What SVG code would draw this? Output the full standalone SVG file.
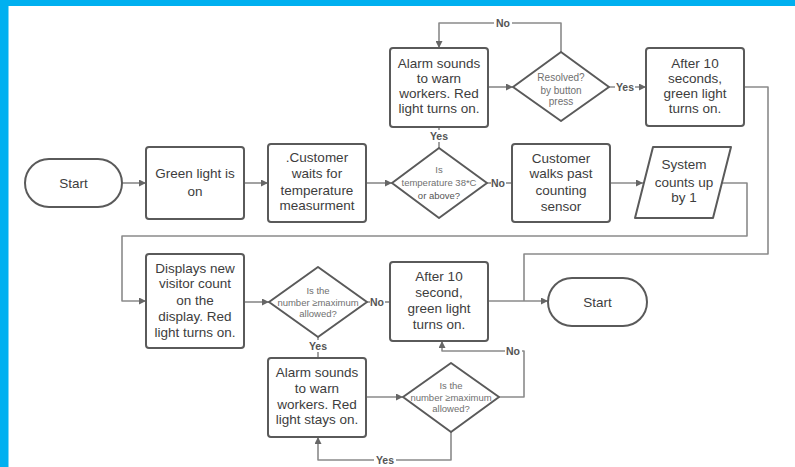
<svg xmlns="http://www.w3.org/2000/svg" width="795" height="467" viewBox="0 0 795 467">
<style>
.shape{fill:#fff;stroke:#5a5a5a;stroke-width:2;stroke-linejoin:round}
.line{fill:none;stroke:#8a8a8a;stroke-width:1.6;stroke-linejoin:round}
.t{font-family:"Liberation Sans",Arial,sans-serif;font-size:13.5px;fill:#3d3d3d;text-anchor:middle}
.s{font-family:"Liberation Sans",Arial,sans-serif;font-size:10px;fill:#707070;text-anchor:middle}
.lbl{font-family:"Liberation Sans",Arial,sans-serif;font-size:10.5px;font-weight:bold;fill:#555;text-anchor:middle}
.bg{fill:#fff}
</style>
<defs>
<marker id="arr" viewBox="0 0 10 10" refX="10" refY="5" markerWidth="9" markerHeight="7" markerUnits="userSpaceOnUse" orient="auto">
<path d="M0,0 L10,5 L0,10 z" fill="#666"/>
</marker>
</defs>
<rect x="0" y="0" width="795" height="467" fill="#fff"/>
<rect x="0" y="0" width="795" height="6" fill="#00b0f0"/>
<rect x="0" y="0" width="8.5" height="467" fill="#00b0f0"/>

<g id="connectors">
<path class="line" d="M122,183 H146" marker-end="url(#arr)"/>
<path class="line" d="M244,183 H268" marker-end="url(#arr)"/>
<path class="line" d="M366,183 H392" marker-end="url(#arr)"/>
<path class="line" d="M487,183 H512"/>
<path class="line" d="M439,148 V127"/>
<path class="line" d="M488,87 H513" marker-end="url(#arr)"/>
<path class="line" d="M561,52 V23 H439 V48" marker-end="url(#arr)"/>
<path class="line" d="M609,87 H646" marker-end="url(#arr)"/>
<path class="line" d="M744,87 H768 V254 H524 V301"/>
<path class="line" d="M610,183 H643" marker-end="url(#arr)"/>
<path class="line" d="M722,183 H747 V236 H122 V301 H146" marker-end="url(#arr)"/>
<path class="line" d="M244,302 H269" marker-end="url(#arr)"/>
<path class="line" d="M367,302 H390"/>
<path class="line" d="M318,337 V358"/>
<path class="line" d="M366,397 H403" marker-end="url(#arr)"/>
<path class="line" d="M499,397 H524 V351 H442 V341" marker-end="url(#arr)"/>
<path class="line" d="M451,432 V460 H318 V437" marker-end="url(#arr)"/>
<path class="line" d="M488,301 H548" marker-end="url(#arr)"/>
<rect class="bg" x="494" y="17" width="18" height="12"/>
<text class="lbl" x="503" y="27">No</text>
<rect class="bg" x="428" y="130" width="22" height="12"/>
<text class="lbl" x="439" y="140">Yes</text>
<rect class="bg" x="615" y="81" width="20" height="12"/>
<text class="lbl" x="625" y="91">Yes</text>
<rect class="bg" x="491" y="177" width="15" height="12"/>
<text class="lbl" x="498" y="187">No</text>
<rect class="bg" x="370" y="296" width="15" height="12"/>
<text class="lbl" x="377" y="306">No</text>
<rect class="bg" x="307" y="340" width="22" height="12"/>
<text class="lbl" x="318" y="350">Yes</text>
<rect class="bg" x="505" y="345" width="17" height="12"/>
<text class="lbl" x="513" y="355">No</text>
<rect class="bg" x="374" y="454" width="22" height="12"/>
<text class="lbl" x="385" y="464">Yes</text>
</g>

<g id="start1">
<rect class="shape" x="25" y="159" width="97" height="48" rx="24"/>
<text class="t" x="73.5" y="188">Start</text>
</g>
<g id="green-light">
<rect class="shape" x="146" y="147" width="98" height="72" rx="3"/>
<text class="t" x="195" y="178">Green light is</text>
<text class="t" x="195" y="196">on</text>
</g>
<g id="customer-waits">
<rect class="shape" x="268" y="144" width="98" height="78" rx="3"/>
<text class="t" x="317" y="162">.Customer</text>
<text class="t" x="317" y="178">waits for</text>
<text class="t" x="317" y="195">temperature</text>
<text class="t" x="317" y="210">measurment</text>
</g>
<g id="temp-decision">
<polygon class="shape" points="439,148 487,183 439,218 392,183"/>
<text class="s" x="439" y="173" style="font-size:9.5px">Is</text>
<text class="s" x="439" y="186" style="font-size:9.5px">temperature 38*C</text>
<text class="s" x="439" y="199" style="font-size:9.5px;fill:#555">or above?</text>
</g>
<g id="alarm1">
<rect class="shape" x="390" y="48" width="98" height="79" rx="3"/>
<text class="t" x="439" y="67.5">Alarm sounds</text>
<text class="t" x="439" y="82.5">to warn</text>
<text class="t" x="439" y="98">workers. Red</text>
<text class="t" x="439" y="113">light turns on.</text>
</g>
<g id="resolved-decision">
<polygon class="shape" points="561,52 609,87 561,121 513,87"/>
<text class="s" x="561" y="81">Resolved?</text>
<text class="s" x="561" y="94">by button</text>
<text class="s" x="561" y="105">press</text>
</g>
<g id="after10-top">
<rect class="shape" x="646" y="48" width="98" height="78" rx="3"/>
<text class="t" x="695" y="67.5">After 10</text>
<text class="t" x="695" y="82.5">seconds,</text>
<text class="t" x="695" y="98">green light</text>
<text class="t" x="695" y="113">turns on.</text>
</g>
<g id="customer-walks">
<rect class="shape" x="512" y="144" width="98" height="78" rx="3"/>
<text class="t" x="561" y="162.5">Customer</text>
<text class="t" x="561" y="178">walks past</text>
<text class="t" x="561" y="195">counting</text>
<text class="t" x="561" y="210.5">sensor</text>
</g>
<g id="system-counts">
<polygon class="shape" points="653,147 731,147 713,218 635,218"/>
<text class="t" x="684" y="169">System</text>
<text class="t" x="684" y="186.5">counts up</text>
<text class="t" x="684" y="201.5">by 1</text>
</g>
<g id="displays">
<rect class="shape" x="146" y="254" width="98" height="94" rx="3"/>
<text class="t" x="195" y="273">Displays new</text>
<text class="t" x="195" y="288">visitor count</text>
<text class="t" x="195" y="304.5">on the</text>
<text class="t" x="195" y="320.5">display. Red</text>
<text class="t" x="195" y="336.5">light turns on.</text>
</g>
<g id="max-decision1">
<polygon class="shape" points="318,267 367,302 318,337 269,302"/>
<text class="s" x="318" y="294" style="font-size:9.5px">Is the</text>
<text class="s" x="318" y="305.5" style="font-size:9.5px">number ≥maximum</text>
<text class="s" x="318" y="316.5" style="font-size:9.5px">allowed?</text>
</g>
<g id="after10-bottom">
<rect class="shape" x="390" y="262" width="98" height="79" rx="3"/>
<text class="t" x="439" y="281">After 10</text>
<text class="t" x="439" y="296.5">second,</text>
<text class="t" x="439" y="313">green light</text>
<text class="t" x="439" y="329">turns on.</text>
</g>
<g id="start2">
<rect class="shape" x="548" y="278" width="99" height="48" rx="24"/>
<text class="t" x="597.5" y="306.5">Start</text>
</g>
<g id="alarm2">
<rect class="shape" x="268" y="358" width="98" height="79" rx="3"/>
<text class="t" x="317" y="376.5">Alarm sounds</text>
<text class="t" x="317" y="392.5">to warn</text>
<text class="t" x="317" y="409">workers. Red</text>
<text class="t" x="317" y="424">light stays on.</text>
</g>
<g id="max-decision2">
<polygon class="shape" points="451,363 499,397 451,432 403,397"/>
<text class="s" x="451" y="389" style="font-size:9.5px">Is the</text>
<text class="s" x="451" y="400.5" style="font-size:9.5px">number ≥maximum</text>
<text class="s" x="451" y="411.5" style="font-size:9.5px">allowed?</text>
</g>
</svg>
